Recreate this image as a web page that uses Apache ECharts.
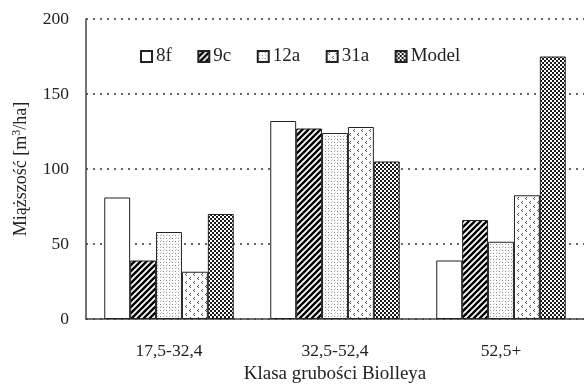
<!DOCTYPE html>
<html>
<head>
<meta charset="utf-8">
<script src="https://cdn.jsdelivr.net/npm/echarts@6/dist/echarts.min.js"></script>
<style>
  html, body { margin: 0; padding: 0; background: #fff; }
  #chart { width: 584px; height: 384px; }
</style>
</head>
<body>
<div id="chart"></div>
<script>
// Diameter classes and stand volumes (m3/ha) per variant
const categories = ['17,5-32,4', '32,5-52,4', '52,5+'];
const seriesNames = ['8f', '9c', '12a', '31a', 'Model'];
const v8f   = [81, 132, 39];
const v9c   = [39, 127, 66];
const v12a  = [58, 124, 51.5];
const v31a  = [31.5, 128, 82.5];
const vModel = [70, 105, 175];
const yTicks = [0, 50, 100, 150, 200];

const FONT = '"Liberation Serif", "DejaVu Serif", serif';

// Small canvas tiles used as bar fills
function tile(w, h, draw) {
  const c = document.createElement('canvas');
  c.width = w; c.height = h;
  const ctx = c.getContext('2d');
  ctx.fillStyle = '#fff';
  ctx.fillRect(0, 0, w, h);
  draw(ctx);
  return { image: c, repeat: 'repeat' };
}

const fillWhite = '#ffffff';

const fillStripes = tile(6, 6, ctx => {
  ctx.strokeStyle = '#000';
  ctx.lineWidth = 2.4;
  for (const c of [0, 6, 12]) {
    ctx.beginPath();
    ctx.moveTo(-3, c + 3);
    ctx.lineTo(9, c - 9);
    ctx.stroke();
  }
});

const fillFineDots = tile(6, 6, ctx => {
  ctx.fillStyle = '#808080';
  ctx.fillRect(1, 1, 1, 1);
  ctx.fillRect(4, 4, 1, 1);
  ctx.fillStyle = '#aaaaaa';
  ctx.fillRect(4, 1, 1, 1);
  ctx.fillRect(1, 4, 1, 1);
  ctx.fillStyle = '#d0d0d0';
  ctx.fillRect(2, 3, 1, 1);
  ctx.fillRect(5, 0, 1, 1);
});

const fillChevrons = tile(8, 8, ctx => {
  ctx.fillStyle = '#555';
  const mark = (x, y) => {
    ctx.fillRect(x + 1, y, 1, 1);
    ctx.fillRect(x, y + 1, 1, 1);
    ctx.fillRect(x + 1, y + 2, 1, 1);
  };
  mark(1, 1);
  mark(5, 5);
});

const fillDenseDots = tile(4, 4, ctx => {
  ctx.fillStyle = '#1a1a1a';
  ctx.fillRect(0, 0, 2, 2);
  ctx.fillRect(2, 2, 2, 2);
});

const fills = [fillWhite, fillStripes, fillFineDots, fillChevrons, fillDenseDots];
const values = [v8f, v9c, v12a, v31a, vModel];

const chart = echarts.init(document.getElementById('chart'), null, { renderer: 'canvas' });

chart.setOption({
  animation: false,
  backgroundColor: '#fff',
  textStyle: { fontFamily: FONT, color: '#222' },
  grid: { left: 86, right: 0, top: 19, bottom: 65, outerBoundsMode: 'none', containLabel: false },
  legend: {
    data: seriesNames,
    left: 135,
    top: 42,
    icon: 'rect',
    itemWidth: 11,
    itemHeight: 11,
    itemGap: 25.5,
    textStyle: { fontFamily: FONT, fontSize: 19, color: '#222', padding: [0, 0, 0, -1] }
  },
  xAxis: {
    type: 'category',
    data: categories,
    name: 'Klasa grubości Biolleya',
    nameLocation: 'middle',
    nameGap: 46,
    nameTextStyle: { fontFamily: FONT, fontSize: 19, color: '#222' },
    axisLine: { lineStyle: { color: '#444', width: 1.5 } },
    axisTick: { show: false },
    axisLabel: { fontFamily: FONT, fontSize: 17.5, color: '#222', margin: 23 }
  },
  yAxis: {
    type: 'value',
    min: yTicks[0],
    max: yTicks[yTicks.length - 1],
    interval: 50,
    name: 'Miąższość [m{sup|3}/ha]',
    nameLocation: 'middle',
    nameGap: 55,
    nameRotate: 90,
    nameTextStyle: {
      fontFamily: FONT, fontSize: 18, color: '#222',
      rich: { sup: { fontFamily: FONT, fontSize: 12, color: '#222', verticalAlign: 'top', padding: [0, 0, 8, 0] } }
    },
    axisLine: { show: true, lineStyle: { color: '#444', width: 1.5 } },
    axisTick: { show: false },
    axisLabel: { fontFamily: FONT, fontSize: 17.5, color: '#222', margin: 17 },
    splitLine: { show: true, lineStyle: { color: '#333', type: [2, 5], width: 1.5 } }
  },
  series: seriesNames.map((name, i) => ({
    name,
    type: 'bar',
    data: values[i],
    barGap: '0%',
    barCategoryGap: '22%',
    itemStyle: { color: fills[i], borderColor: '#222', borderWidth: 1 }
  }))
});
</script>
</body>
</html>
